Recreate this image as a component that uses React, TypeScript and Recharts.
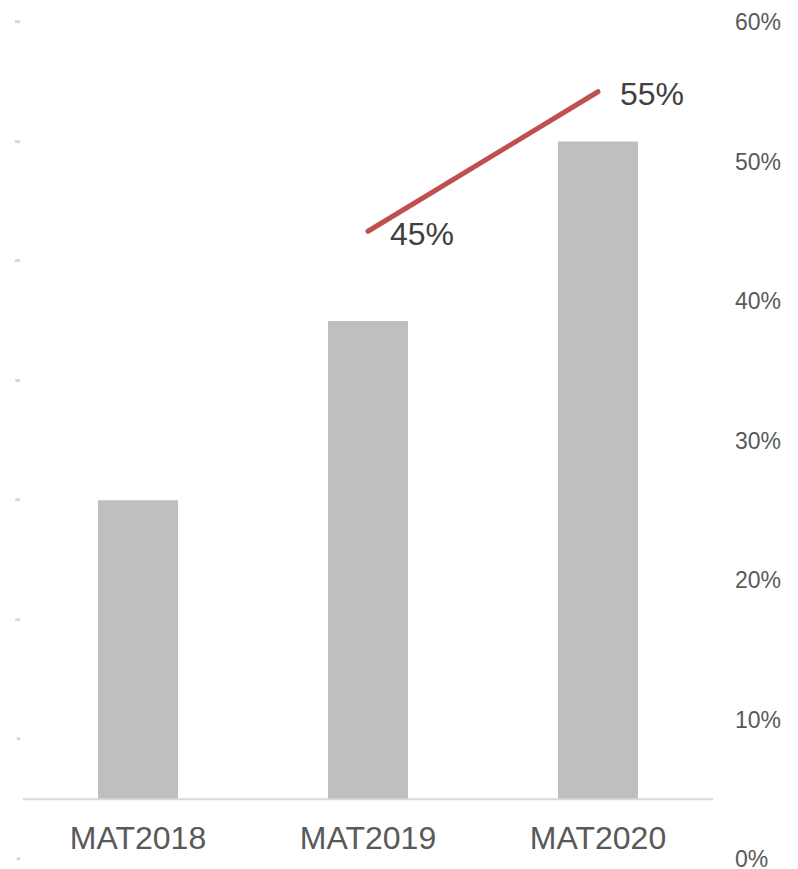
import React from "react";
import {
  ComposedChart,
  Bar,
  Line,
  XAxis,
  YAxis,
  ReferenceLine,
  LabelList,
} from "recharts";

// Categories and series values
const categories = ["MAT2018", "MAT2019", "MAT2020"];
const volumeValues = [250, 400, 550];
const shareValues: (number | null)[] = [null, 0.45, 0.55];

// Axis ticks
const leftTicks = [-50, 50, 150, 250, 350, 450, 550, 650];
const rightTicks = [0, 0.1, 0.2, 0.3, 0.4, 0.5, 0.6];

const data = categories.map((name, i) => ({
  name,
  volume: volumeValues[i],
  share: shareValues[i],
}));

const FONT = "'Liberation Sans', Arial, sans-serif";

const pct = (v: number) => `${Math.round(v * 100)}%`;

// Category labels sit just above the bottom of the plot, below the baseline
const CategoryTick = (props: any) => {
  const { x, y, payload } = props;
  return (
    <text
      x={x}
      y={y}
      dy={-10}
      textAnchor="middle"
      fontFamily={FONT}
      fontSize={32}
      fill="#595959"
    >
      {payload.value}
    </text>
  );
};

const ShareLabel = (props: any) => {
  const { x, y, value } = props;
  if (value == null) return null;
  return (
    <text
      x={x + 22}
      y={y + 2}
      dy="0.355em"
      textAnchor="start"
      fontFamily={FONT}
      fontSize={32}
      fill="#404040"
    >
      {pct(value)}
    </text>
  );
};

export default function App() {
  return (
    <div style={{ position: "absolute", left: 0, top: 0, background: "#fff" }}>
      <ComposedChart
        width={798}
        height={869}
        data={data}
        margin={{ top: 22, right: 0, bottom: 0, left: 0 }}
      >
        <XAxis
          dataKey="name"
          xAxisId="x"
          axisLine={false}
          tickLine={false}
          tickSize={0}
          tickMargin={0}
          height={10}
          tick={<CategoryTick />}
          interval={0}
        />
        <YAxis
          yAxisId="left"
          orientation="left"
          width={23}
          domain={[-50, 650]}
          ticks={leftTicks}
          axisLine={false}
          tickLine={false}
          tickSize={0}
          tickMargin={3}
          tick={{ fontSize: 3, fill: "#7f7f7f", fontFamily: FONT }}
          interval={0}
        />
        <YAxis
          yAxisId="right"
          orientation="right"
          width={85}
          domain={[0, 0.6]}
          ticks={rightTicks}
          tickFormatter={pct}
          axisLine={false}
          tickLine={false}
          tickSize={0}
          tickMargin={22}
          tick={{ fontSize: 23, fill: "#595959", fontFamily: FONT, textAnchor: "start" }}
          interval={0}
        />
        <ReferenceLine
          xAxisId="x"
          yAxisId="left"
          y={0}
          stroke="#d9d9d9"
          strokeWidth={2}
        />
        <Bar
          xAxisId="x"
          yAxisId="left"
          dataKey="volume"
          fill="#bfbfbf"
          barSize={80}
          isAnimationActive={false}
        />
        <Line
          xAxisId="x"
          yAxisId="right"
          dataKey="share"
          stroke="#c0504d"
          strokeWidth={5}
          strokeLinecap="round"
          dot={false}
          activeDot={false}
          connectNulls={false}
          isAnimationActive={false}
        >
          <LabelList dataKey="share" content={<ShareLabel />} />
        </Line>
      </ComposedChart>
    </div>
  );
}
